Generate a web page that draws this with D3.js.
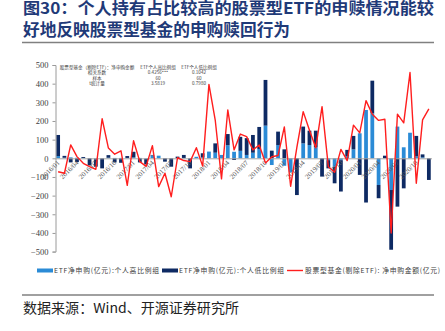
<!DOCTYPE html>
<html><head><meta charset="utf-8">
<script src="https://cdn.jsdelivr.net/npm/d3@7"></script>
<style>
html,body{margin:0;padding:0;background:#fff;}
svg{display:block;}
</style></head>
<body>
<script>
// ---------- data ----------
const months = ["2016/01","2016/02","2016/03","2016/04","2016/05","2016/06","2016/07","2016/08","2016/09","2016/10","2016/11","2016/12",
"2017/01","2017/02","2017/03","2017/04","2017/05","2017/06","2017/07","2017/08","2017/09","2017/10","2017/11","2017/12",
"2018/01","2018/02","2018/03","2018/04","2018/05","2018/06","2018/07","2018/08","2018/09","2018/10","2018/11","2018/12",
"2019/01","2019/02","2019/03","2019/04","2019/05","2019/06","2019/07","2019/08","2019/09","2019/10","2019/11","2019/12",
"2020/01","2020/02","2020/03","2020/04","2020/05","2020/06","2020/07","2020/08","2020/09","2020/10","2020/11","2020/12"];
const tickMonths = ["2016/01","2016/04","2016/07","2016/10","2017/01","2017/04","2017/07","2017/10","2018/01","2018/04","2018/07","2018/10",
"2019/01","2019/04","2019/07","2019/10","2020/01","2020/04","2020/07","2020/10"];
// ETF net subscription (100m CNY): high individual-holding group
const highGroup = [12,3,5,3,2,0,-5,0,3,2,2,2,5,2,-3,15,14,0,0,0,2,0,8,5,36,30,18,70,35,40,18,30,50,175,-36,71,-40,-75,0,80,71,59,0,-10,-45,-10,10,48,134,259,241,-143,0,-170,170,59,137,10,5,0];
// ETF net subscription (100m CNY): low individual-holding group
const lowGroup = [113,10,-22,-20,5,-38,-40,-54,14,-22,-24,10,30,-22,-30,3,0,-18,-45,9,16,-54,0,22,0,50,0,60,-9,75,90,95,118,245,41,72,48,0,-197,90,77,89,-98,-44,-89,-168,35,72,-89,-237,175,-71,14,-320,-259,-161,0,110,16,-116];
// Equity funds (excl. ETF): net subscription (100m CNY)
const fundNet = [-72,-80,72,9,-27,-45,-59,212,55,22,40,-145,94,-18,-43,68,-152,-80,-206,3,-12,-18,57,-42,396,205,-110,259,45,130,116,45,71,-25,8,15,168,-150,60,250,150,56,277,-45,-75,48,-12,178,136,309,236,203,209,-400,237,190,460,-134,206,265];
const yTicks = [-500,-400,-300,-200,-100,0,100,200,300,400,500];
const tableHeader = ["股票型基金（剔除ETF）：净申购金额","ETF个人高比例组","ETF个人低比例组"];
const tableRows = [["相关系数","0.4256***","0.1042"],["样本","60","60"],["t统计量","3.5819","0.7980"]];
const seriesNames = ["ETF净申购(亿元):个人高比例组","ETF净申购(亿元):个人低比例组","股票型基金(剔除ETF): 净申购金额(亿元)"];
const titleLines = ["图30：个人持有占比较高的股票型ETF的申赎情况能较","好地反映股票型基金的申购赎回行为"];
const sourceText = "数据来源：Wind、开源证券研究所";

// ---------- drawing ----------
const W = 445, H = 331;
const C_LIGHT = "#2B8BD6", C_DARK = "#0E2A63", C_RED = "#FF1E1E";
const svg = d3.select("body").append("svg").attr("width", W).attr("height", H);
const CJK = "'Noto Sans CJK SC','Noto Sans',sans-serif";
const SERIF = "'Liberation Serif','DejaVu Serif',serif";

// title
const tcol = "#1F3A78";
svg.append("text").attr("x", 23).attr("y", 14).attr("font-family", CJK).attr("font-weight", 700)
  .attr("font-size", 16).attr("fill", tcol).attr("textLength", 411).attr("lengthAdjust", "spacingAndGlyphs").text(titleLines[0]);
svg.append("text").attr("x", 23).attr("y", 35.5).attr("font-family", CJK).attr("font-weight", 700)
  .attr("font-size", 16.5).attr("fill", tcol).attr("textLength", 267).attr("lengthAdjust", "spacingAndGlyphs").text(titleLines[1]);
svg.append("line").attr("x1", 22).attr("x2", 434).attr("y1", 42.5).attr("y2", 42.5).attr("stroke", "#808080").attr("stroke-width", 1.5);

// scales
const x = d3.scaleBand().domain(months).range([55, 432]).paddingInner(0.4).paddingOuter(0.2);
const y = d3.scaleLinear().domain([-500, 500]).range([251.6, 65]);

// stacked bars
const rows = months.map((m, i) => ({month: m, high: highGroup[i], low: lowGroup[i]}));
const stack = d3.stack().keys(["high", "low"]).offset(d3.stackOffsetDiverging)(rows);
const colors = {high: C_LIGHT, low: C_DARK};
svg.append("g").selectAll("g").data(stack).join("g").attr("fill", d => colors[d.key])
  .selectAll("rect").data(d => d).join("rect")
  .attr("x", d => x(d.data.month)).attr("width", x.bandwidth())
  .attr("y", d => y(Math.max(d[0], d[1]))).attr("height", d => Math.abs(y(d[0]) - y(d[1])));

// y axis
const yAxis = d3.axisLeft(y).tickValues(yTicks).tickSize(3).tickPadding(4);
const gy = svg.append("g").attr("transform", "translate(55.5,0)").call(yAxis);
gy.select(".domain").attr("stroke", "#9A9A9A");
gy.selectAll(".tick line").attr("stroke", "#9A9A9A");
gy.selectAll("text").attr("font-family", SERIF).attr("font-size", 8.5).attr("fill", "#404040");

// zero / category axis
const gx = svg.append("g").attr("transform", `translate(0,${y(0)})`)
  .call(d3.axisBottom(x).tickValues(tickMonths).tickSize(0).tickPadding(0));
gx.select(".domain").attr("stroke", "#A6A6A6").attr("d", `M55,0.5H432`);
gx.selectAll(".tick text").attr("font-family", SERIF).attr("font-size", 7).attr("fill", "#595959")
  .attr("text-anchor", "end").attr("dy", 0).attr("y", 0)
  .attr("transform", "translate(2,5) rotate(-45)");

// red line
const line = d3.line().x((d, i) => x(months[i]) + x.bandwidth() / 2).y(d => y(d));
svg.append("path").datum(fundNet).attr("d", line).attr("fill", "none")
  .attr("stroke", C_RED).attr("stroke-width", 1.4).attr("stroke-linejoin", "round");

// statistics table
const tbl = svg.append("g").attr("font-family", CJK).attr("font-size", 4.6).attr("fill", "#404040").attr("text-anchor", "middle");
const colX = [97, 158, 199];
const rowY = [68.5, 74, 79.5, 85];
tableHeader.forEach((t, j) => tbl.append("text").attr("x", colX[j]).attr("y", rowY[0]).text(t));
tableRows.forEach((r, i) => r.forEach((t, j) => tbl.append("text").attr("x", colX[j]).attr("y", rowY[i + 1]).text(t)));

// legend
const lg = svg.append("g").attr("font-family", CJK).attr("font-size", 6.8).attr("fill", "#404040");
lg.append("rect").attr("x", 37).attr("y", 268.5).attr("width", 16).attr("height", 4).attr("fill", C_LIGHT);
lg.append("text").attr("x", 54).attr("y", 273).attr("textLength", 105).attr("lengthAdjust", "spacing").text(seriesNames[0]);
lg.append("rect").attr("x", 162).attr("y", 268.5).attr("width", 16).attr("height", 4).attr("fill", C_DARK);
lg.append("text").attr("x", 179).attr("y", 273).attr("textLength", 105).attr("lengthAdjust", "spacing").text(seriesNames[1]);
lg.append("line").attr("x1", 287).attr("x2", 303).attr("y1", 270.5).attr("y2", 270.5).attr("stroke", C_RED).attr("stroke-width", 1.4);
lg.append("text").attr("x", 305).attr("y", 273).attr("letter-spacing", 0.7).text(seriesNames[2]);

// source
svg.append("line").attr("x1", 22).attr("x2", 434).attr("y1", 295).attr("y2", 295).attr("stroke", "#808080").attr("stroke-width", 1.5);
svg.append("text").attr("x", 23).attr("y", 313).attr("font-family", CJK).attr("font-size", 13.5).attr("fill", "#222")
  .attr("textLength", 216).attr("lengthAdjust", "spacingAndGlyphs").text(sourceText);
</script>
</body></html>
